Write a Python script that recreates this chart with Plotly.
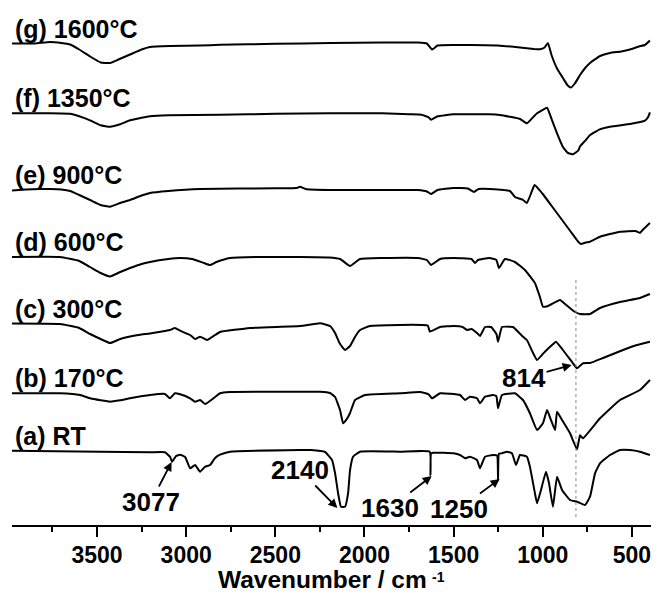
import plotly.graph_objects as go

# ---- data: (wavenumber cm^-1, relative transmittance in arbitrary units) ----
spec_a = [(3977, 0), (3483, -1), (3203, -1.6), (3119, -1.6), (3091, -6), (3079, -11), (3057, -5.3),
          (3034, -4), (3006, -6.3), (2978, -17.6), (2950, -14.3), (2922, -21), (2894, -16), (2866, -14.3),
          (2838, -7.3), (2810, -4), (2754, -1), (2362, 0.7), (2300, 0.7), (2221, -1.3), (2182, -9.3),
          (2165, -22.6), (2148, -42.6), (2132, -56), (2109, -56), (2092, -42.6), (2081, -19.3), (2064, -6),
          (2025, -1), (1800, -1), (1634, -1), (1630, -24.3), (1627, -3), (1615, -2), (1500, -2.6),
          (1464, -4.3), (1436, -7.6), (1408, -6), (1369, -9.3), (1352, -17.6), (1324, -6), (1279, -4.3),
          (1256, -5), (1251, -29.3), (1246, -3), (1229, -2.6), (1201, -1), (1173, -2.6), (1150, -14.3),
          (1128, -4.3), (1089, -6), (1072, -16), (1044, -42.6), (1032, -52.6), (1010, -39.3), (982, -21),
          (965, -32.6), (943, -56), (920, -26), (892, -39.3), (847, -49.3), (808, -51), (763, -54.3),
          (735, -46), (707, -22.6), (679, -12.6), (623, -4.3), (567, 0.7), (511, 0.7), (455, -1), (399, -4.3)]
spec_b = [(3977, 0), (3708, 0), (3595, -1.7), (3539, -5), (3480, -7), (3427, -8.4), (3370, -7), (3315, -5),
          (3203, -1.7), (3119, -0.7), (3091, -5), (3063, 0), (3034, -1), (2978, -5), (2950, -8.4),
          (2922, -6.7), (2894, -10.7), (2838, -3.7), (2810, 0), (2754, 1.3), (2362, 1.6), (2250, 1.6),
          (2193, 0.3), (2165, -3.7), (2137, -16.7), (2120, -30), (2100, -26), (2081, -19.7), (2053, -6.7),
          (1997, -1.7), (1800, 0), (1689, 1.3), (1640, -1), (1621, -5), (1576, 0), (1464, -1.7),
          (1436, -6.7), (1408, -3.4), (1369, -5), (1352, -10), (1324, -3.4), (1279, -1.7), (1260, -3),
          (1251, -15), (1229, -1.7), (1156, 0), (1111, -6.7), (1072, -20), (1032, -36.7), (999, -30),
          (976, -16.7), (954, -26.7), (931, -36.7), (920, -18.4), (892, -26.7), (847, -40), (808, -56),
          (791, -42), (775, -45), (679, -25), (567, -6.7), (455, 3.3), (399, 13.3)]
spec_c = [(3977, 0.5), (3708, 0), (3600, -4), (3539, -10), (3480, -15), (3427, -19), (3370, -15),
          (3315, -12.5), (3250, -10.5), (3203, -9.5), (3120, -7), (3091, -6), (3063, -4), (3034, -6.7),
          (2978, -11), (2950, -15), (2922, -12.7), (2883, -16), (2838, -11), (2810, -8), (2642, -4),
          (2362, -2), (2249, 0.7), (2193, -2), (2165, -9), (2137, -20), (2109, -26), (2081, -22),
          (2050, -12), (2025, -6), (1969, -2), (1801, -1), (1680, -1), (1645, -1.5), (1633, -7.7),
          (1576, -3), (1500, -2), (1450, -3), (1425, -6), (1400, -5), (1369, -9), (1352, -12), (1324, -3),
          (1290, -3), (1260, -10), (1251, -17.7), (1229, -3), (1184, -2.7), (1167, -3), (1111, -12.7),
          (1089, -16), (1060, -27), (1032, -36), (988, -27.7), (948, -21), (926, -17.7), (887, -26),
          (831, -39.3), (808, -44.3), (774, -39.3), (735, -39), (662, -34), (550, -26), (472, -21),
          (399, -17.7)]
spec_d = [(3977, 0), (3708, 0), (3600, -4), (3539, -10), (3480, -16), (3427, -19.5), (3370, -15),
          (3315, -11), (3250, -7), (3203, -5), (3100, -2), (3034, -1), (2967, -2), (2900, -6), (2866, -8),
          (2830, -5), (2754, -1), (2600, 0), (2362, 0), (2200, -0.5), (2137, -2), (2081, -9), (2025, -2),
          (1900, -1), (1700, -1), (1650, -3), (1627, -8), (1576, -2), (1500, -1), (1400, -2), (1380, -6),
          (1363, -3), (1300, -1), (1260, -3), (1246, -11), (1212, -2), (1156, -5), (1100, -13),
          (1044, -26), (1016, -40), (999, -49.7), (971, -49), (903, -43), (875, -47), (819, -55),
          (791, -57), (735, -57), (679, -51), (567, -45), (455, -41), (399, -37)]
spec_e = [(3977, -0.5), (3900, 0.5), (3820, 1), (3764, 1), (3700, 0.5), (3651, -1), (3600, -5),
          (3539, -10), (3480, -15), (3427, -16.7), (3370, -13), (3315, -10), (3250, -5.5), (3203, -3),
          (3100, -1), (2922, 1), (2500, 1.7), (2380, 2), (2362, 3.3), (2330, 1), (2200, 0), (1900, 0),
          (1700, 0), (1650, -1.5), (1627, -4), (1590, 0), (1500, 2), (1420, 1.5), (1386, -2), (1360, 1),
          (1296, 1), (1184, -1), (1156, -7), (1110, -10), (1089, -13), (1065, -3), (1046, 5), (1000, -4),
          (950, -16), (900, -28), (850, -40), (800, -52), (786, -54), (760, -52.5), (735, -51.7),
          (679, -46.7), (567, -41.7), (480, -41), (455, -43), (440, -40), (399, -33)]
spec_f = [(3977, 0), (3764, 0), (3651, -0.5), (3600, -3), (3539, -7), (3480, -12), (3427, -13.5),
          (3370, -11), (3315, -7), (3250, -4.5), (3203, -3), (3100, -2), (2810, -1.5), (2500, -0.5),
          (2193, 0), (1900, 0), (1750, -1), (1680, -1.5), (1640, -4), (1627, -6.5), (1590, -3),
          (1500, -1), (1300, -1), (1240, -1.7), (1128, -5.7), (1089, -10), (1060, -5), (1032, 0),
          (1000, 3.5), (976, 5.6), (950, -6), (920, -20), (887, -33.6), (860, -39.5), (831, -41),
          (800, -37), (791, -33), (760, -27), (735, -21.7), (680, -16), (623, -13.4), (511, -10.7),
          (460, -9), (427, -7.4), (410, -4), (399, 1)]
spec_g = [(3977, 0), (3850, 0), (3764, 1.5), (3700, 0.5), (3651, -1), (3600, -6), (3539, -13),
          (3480, -19), (3427, -19.5), (3380, -16), (3315, -11), (3250, -6), (3203, -3.5), (3091, -2.5),
          (2922, -2), (2810, -1.3), (2500, -0.3), (2193, 0.5), (1900, 1), (1700, 1), (1650, 0),
          (1621, -6), (1590, -2), (1500, -1.5), (1400, -1.5), (1250, -2), (1128, -4), (1050, -5.5),
          (1016, -5.8), (990, -4), (971, 0.5), (950, -12), (920, -25), (887, -34.5), (860, -42),
          (842, -44), (820, -40), (791, -31.5), (760, -24), (735, -19.5), (679, -12.5), (623, -9.5),
          (560, -8), (511, -6), (460, -3), (427, -1.5), (399, 3)]

series_labels = ["(a) RT", "(b) 170°C", "(c) 300°C", "(d) 600°C",
                 "(e) 900°C", "(f) 1350°C", "(g) 1600°C"]
series_data = [spec_a, spec_b, spec_c, spec_d, spec_e, spec_f, spec_g]
peak_labels = ["3077", "2140", "1630", "1250", "814"]
tick_values = [3500, 3000, 2500, 2000, 1500, 1000, 500]
tick_text = ["3500", "3000", "2500", "2000", "1500", "1000", "500"]
axis_title = "Wavenumber / cm"
axis_title_sup = "-1"

# ---- layout constants (vertical stacking offsets) ----
offsets = [74.3, 131.7, 201, 268, 335, 411.7, 481.5]
FONT = "Liberation Sans, Arial, sans-serif"
PLOT_H = 525.0

fig = go.Figure()
for lab, spec, off in zip(series_labels, series_data, offsets):
    xs = [p[0] for p in spec]
    ys = [p[1] + off for p in spec]
    fig.add_trace(go.Scatter(x=xs, y=ys, mode="lines", name=lab,
                             line=dict(color="black", width=2, shape="spline", smoothing=0.35),
                             showlegend=False, hoverinfo="skip"))

# dotted reference line at 814 cm-1
ref_wn = float(peak_labels[4])
fig.add_trace(go.Scatter(x=[ref_wn, ref_wn], y=[8, 245], mode="lines",
                         line=dict(color="#8a8a8a", width=1, dash="dot"),
                         showlegend=False, hoverinfo="skip"))

annotations = []
for lab, off in zip(series_labels, offsets):
    annotations.append(dict(x=3974, y=off + 15, xref="x", yref="y", text=lab, showarrow=False,
                            xanchor="left", yanchor="middle",
                            font=dict(family=FONT, size=25, color="black", weight="bold")))

# peak annotations: (text, text centre, arrow head)
peak_specs = [
    (peak_labels[0], (3198, 23), (3082, 63)),
    (peak_labels[1], (2362, 55), (2152, 17)),
    (peak_labels[2], (1857, 17), (1623, 49)),
    (peak_labels[3], (1470, 16), (1242, 46)),
    (peak_labels[4], (1105, 147), (838, 160)),
]
for txt, tpos, head in peak_specs:
    annotations.append(dict(x=head[0], y=head[1], ax=tpos[0], ay=tpos[1], xref="x", yref="y",
                            axref="x", ayref="y", text=txt, showarrow=True, arrowhead=2,
                            arrowsize=1, arrowwidth=1.8, arrowcolor="black", standoff=0,
                            startstandoff=0, borderpad=0,
                            font=dict(family=FONT, size=26, color="black", weight="bold")))

# axis title (superscript drawn as its own small text)
annotations.append(dict(x=(322 - 12) / 639, y=(PLOT_H - 594) / PLOT_H, xref="paper", yref="paper",
                        text=axis_title, showarrow=False, borderpad=0,
                        xanchor="center", yanchor="bottom",
                        font=dict(family=FONT, size=24.5, color="black", weight="bold")))
annotations.append(dict(x=(431 - 12) / 639, y=(PLOT_H - 577) / PLOT_H, xref="paper", yref="paper",
                        text=axis_title_sup, showarrow=False, borderpad=0,
                        xanchor="left", yanchor="middle",
                        font=dict(family=FONT, size=14, color="black", weight="bold")))

fig.update_layout(
    width=656, height=594,
    margin=dict(l=12, r=5, t=0, b=69),
    paper_bgcolor="white", plot_bgcolor="white",
    annotations=annotations,
    xaxis=dict(range=[3977, 393], showgrid=False, zeroline=False,
               showline=True, linecolor="black", linewidth=2, mirror=False,
               ticks="outside", ticklen=10, tickwidth=2, tickcolor="black",
               ticklabelstandoff=-2,
               tickvals=tick_values, ticktext=tick_text,
               tickfont=dict(family=FONT, size=23, color="black", weight="bold"),
               minor=dict(tickvals=[3750, 3250, 2750, 2250, 1750, 1250, 750],
                          ticks="outside", ticklen=5, tickwidth=2, tickcolor="black")),
    yaxis=dict(range=[0, PLOT_H], visible=False, fixedrange=True),
)

fig.write_html("out.html")
